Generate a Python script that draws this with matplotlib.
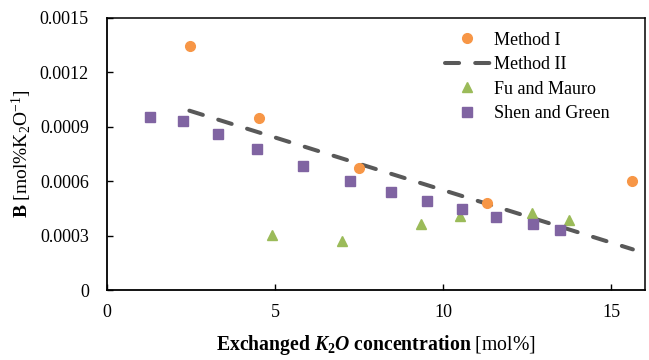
import matplotlib
matplotlib.use("Agg")
import matplotlib.pyplot as plt

plt.rcParams['font.family'] = ['Liberation Serif', 'DejaVu Serif']
plt.rcParams['mathtext.fontset'] = 'custom'
plt.rcParams['mathtext.rm'] = 'Liberation Serif'
plt.rcParams['mathtext.it'] = 'Liberation Serif:italic'
plt.rcParams['mathtext.bf'] = 'Liberation Serif:bold'
plt.rcParams['mathtext.bfit'] = 'Liberation Serif:bold:italic'

# Data
m1_x = [2.47, 4.52, 7.49, 11.29, 15.6]
m1_y = [0.001347, 0.000947, 0.000671, 0.000478, 0.000599]

m2_x = [2.45, 10.1, 15.64]
m2_y = [0.000989, 0.000545, 0.000224]

fm_x = [4.9, 6.98, 9.33, 10.49, 12.65, 13.75]
fm_y = [0.000303, 0.000272, 0.000364, 0.000408, 0.000423, 0.000388]

sg_x = [1.28, 2.25, 3.29, 4.47, 5.84, 7.23, 8.44, 9.53, 10.57, 11.58, 12.66, 13.47]
sg_y = [0.000956, 0.000934, 0.000858, 0.000778, 0.000686, 0.000603,
        0.000542, 0.000493, 0.000447, 0.000401, 0.000364, 0.000331]

x_ticks = [0, 5, 10, 15]
y_ticks = [0, 0.0003, 0.0006, 0.0009, 0.0012, 0.0015]
y_tick_labels = ['0', '0.0003', '0.0006', '0.0009', '0.0012', '0.0015']

fig = plt.figure(figsize=(6.49, 3.6), dpi=100)
ax = fig.add_axes([0.1649, 0.1944, 0.8289, 0.7556])

ax.plot(m1_x, m1_y, 'o', color='#F79646', ms=7, mec='#F79646', label='Method I', zorder=3)
ax.plot(m2_x, m2_y, color='#595959', lw=2.9, ls=(0, (3.5, 4.0)),
        dash_capstyle='round', label='Method II', zorder=2)
ax.plot(fm_x, fm_y, '^', color='#9BBB59', ms=7.5, label='Fu and Mauro', zorder=3)
ax.plot(sg_x, sg_y, 's', color='#8064A2', ms=7, label='Shen and Green', zorder=3)

ax.set_xlim(0, 16.0)
ax.set_ylim(0, 0.0015)
ax.set_xticks(x_ticks)
ax.set_yticks(y_ticks)
ax.set_yticklabels(y_tick_labels)
ax.tick_params(direction='in', length=4, width=1.0, labelsize=13, pad=10)
ax.tick_params(axis='y', pad=13)

for s in ['left', 'bottom']:
    ax.spines[s].set_linewidth(1.3)
for s in ['top', 'right']:
    ax.spines[s].set_linewidth(1.1)

ax.set_xlabel(r"$\mathbf{Exchanged}\ \mathbfit{K}_{\mathbf{2}}\mathbfit{O}\ \mathbf{concentration}\ \mathrm{[mol\%]}$",
              fontsize=14.2, labelpad=9)
ax.set_ylabel(r"$\mathbf{B}\ \mathrm{[mol\%K_2O^{-1}]}$", fontsize=14, labelpad=4)

leg = ax.legend(loc='upper left', bbox_to_anchor=(0.628, 0.95), frameon=False,
                fontsize=13, handlelength=2.5, handletextpad=0.2, labelspacing=0.42,
                borderaxespad=0, borderpad=0)

fig.savefig('out.png', dpi=100)
